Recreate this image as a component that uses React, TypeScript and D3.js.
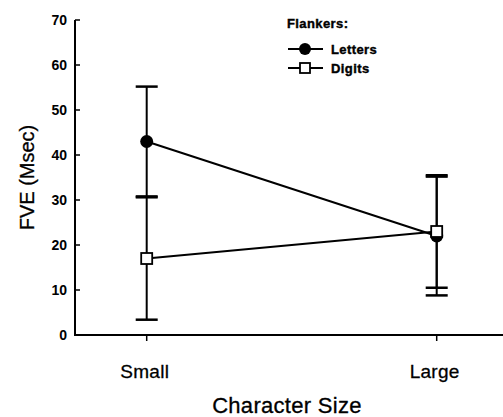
import React, { useEffect, useRef } from "react";
import * as d3 from "d3";

const sizes = ["Small", "Large"];
const letters = [43, 22];
const lettersErr = [12.2, 13.2];
const digits = [17, 23];
const digitsErr = [13.6, 12.5];
const yTicks = [0, 10, 20, 30, 40, 50, 60, 70];

const W = 503;
const H = 417;
const font = "'Liberation Sans', Arial, sans-serif";

export default function App() {
  const ref = useRef<SVGSVGElement>(null);

  useEffect(() => {
    const svg = d3.select(ref.current);
    svg.selectAll("*").remove();

    const x = d3.scalePoint().domain(sizes).range([146.7, 436.7]);
    const y = d3.scaleLinear().domain([0, 70]).range([335, 20]);
    const axisX = 75;

    const g = svg.append("g");

    // axes
    g.append("line")
      .attr("x1", axisX).attr("x2", axisX)
      .attr("y1", y(70)).attr("y2", y(0))
      .attr("stroke", "#000").attr("stroke-width", 2);
    g.append("line")
      .attr("x1", axisX - 1).attr("x2", W)
      .attr("y1", y(0)).attr("y2", y(0))
      .attr("stroke", "#000").attr("stroke-width", 2);

    yTicks.forEach(t => {
      if (t > 0) {
        g.append("line")
          .attr("x1", axisX).attr("x2", axisX + 5)
          .attr("y1", y(t)).attr("y2", y(t))
          .attr("stroke", "#000").attr("stroke-width", 1.5);
      }
      g.append("text")
        .attr("x", 67).attr("y", y(t))
        .attr("dy", "0.36em")
        .attr("text-anchor", "end")
        .attr("font-family", font).attr("font-weight", "bold")
        .attr("font-size", 14)
        .text(t);
    });

    sizes.forEach(s => {
      g.append("line")
        .attr("x1", x(s)!).attr("x2", x(s)!)
        .attr("y1", y(0)).attr("y2", y(0) + 6)
        .attr("stroke", "#000").attr("stroke-width", 1.5);
      g.append("text")
        .attr("x", x(s)! - 2).attr("y", 378)
        .attr("text-anchor", "middle")
        .attr("font-family", font).attr("font-size", 19)
        .attr("letter-spacing", 0.3)
        .attr("stroke", "#000").attr("stroke-width", 0.3)
        .text(s);
    });

    g.append("text")
      .attr("x", 287).attr("y", 413)
      .attr("text-anchor", "middle")
      .attr("font-family", font).attr("font-size", 22)
      .attr("letter-spacing", 0.3)
      .attr("stroke", "#000").attr("stroke-width", 0.3)
      .text("Character Size");

    g.append("text")
      .attr("transform", `translate(34,${177.5}) rotate(-90)`)
      .attr("text-anchor", "middle")
      .attr("font-family", font).attr("font-size", 20)
      .attr("stroke", "#000").attr("stroke-width", 0.3)
      .text("FVE (Msec)");

    // error bars
    const drawErr = (vals: number[], errs: number[]) => {
      vals.forEach((v, i) => {
        const cx = x(sizes[i])!;
        g.append("line")
          .attr("x1", cx).attr("x2", cx)
          .attr("y1", y(v + errs[i])).attr("y2", y(v - errs[i]))
          .attr("stroke", "#000").attr("stroke-width", 2);
        [v + errs[i], v - errs[i]].forEach(e => {
          g.append("line")
            .attr("x1", cx - 11).attr("x2", cx + 11)
            .attr("y1", y(e)).attr("y2", y(e))
            .attr("stroke", "#000").attr("stroke-width", 2.5);
        });
      });
    };
    drawErr(letters, lettersErr);
    drawErr(digits, digitsErr);

    const line = d3.line<number>()
      .x((d, i) => x(sizes[i])!)
      .y(d => y(d));

    g.append("path").attr("d", line(letters)!)
      .attr("fill", "none").attr("stroke", "#000").attr("stroke-width", 2);
    g.append("path").attr("d", line(digits)!)
      .attr("fill", "none").attr("stroke", "#000").attr("stroke-width", 2);

    letters.forEach((v, i) => {
      g.append("circle")
        .attr("cx", x(sizes[i])!).attr("cy", y(v))
        .attr("r", 6.5).attr("fill", "#000");
    });
    digits.forEach((v, i) => {
      g.append("rect")
        .attr("x", x(sizes[i])! - 5.5).attr("y", y(v) - 5.5)
        .attr("width", 11).attr("height", 11)
        .attr("fill", "#fff").attr("stroke", "#000").attr("stroke-width", 1.8);
    });

    // legend
    const lg = svg.append("g");
    lg.append("text")
      .attr("x", 287).attr("y", 28)
      .attr("font-family", font).attr("font-weight", "bold")
      .attr("font-size", 13).attr("letter-spacing", 0.4)
      .attr("stroke", "#000").attr("stroke-width", 0.4)
      .text("Flankers:");
    const items = [
      { name: "Letters", y: 49, kind: "circle" },
      { name: "Digits", y: 68, kind: "square" },
    ];
    items.forEach(it => {
      lg.append("line")
        .attr("x1", 288).attr("x2", 323)
        .attr("y1", it.y).attr("y2", it.y)
        .attr("stroke", "#000").attr("stroke-width", 2);
      if (it.kind === "circle") {
        lg.append("circle").attr("cx", 305).attr("cy", it.y)
          .attr("r", 6).attr("fill", "#000");
      } else {
        lg.append("rect").attr("x", 300).attr("y", it.y - 5)
          .attr("width", 10).attr("height", 10)
          .attr("fill", "#fff").attr("stroke", "#000").attr("stroke-width", 1.8);
      }
      lg.append("text")
        .attr("x", 331).attr("y", it.y)
        .attr("dy", "0.36em")
        .attr("font-family", font).attr("font-weight", "bold")
        .attr("font-size", 13).attr("letter-spacing", 0.4)
        .attr("stroke", "#000").attr("stroke-width", 0.4)
        .text(it.name);
    });
  }, []);

  return (
    <svg
      ref={ref}
      width={W}
      height={H}
      viewBox={`0 0 ${W} ${H}`}
      style={{ position: "absolute", left: 0, top: 0, background: "#fff" }}
    />
  );
}
